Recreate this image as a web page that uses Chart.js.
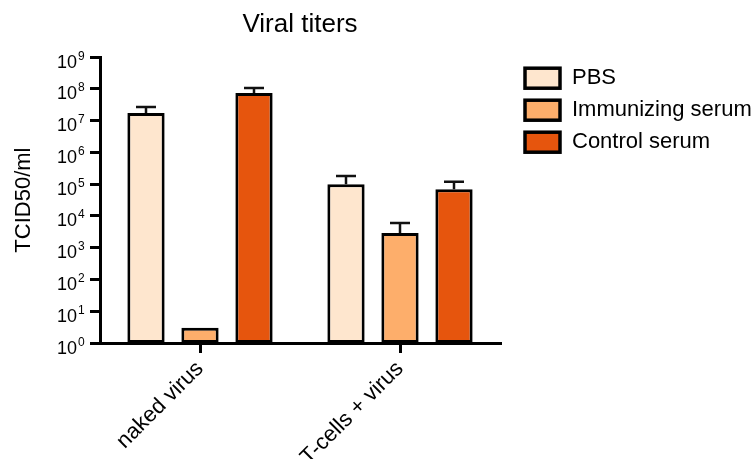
<!DOCTYPE html>
<html>
<head>
<meta charset="utf-8">
<script src="https://cdn.jsdelivr.net/npm/chart.js@4"></script>
<style>
  html, body { margin: 0; padding: 0; background: #fff; }
  #wrap { width: 751px; height: 459px; }
</style>
</head>
<body>
<div id="wrap"><canvas id="titerChart" width="751" height="459"></canvas></div>
<script>
// Data
const categories = ['naked virus', 'T-cells + virus'];
const seriesNames = ['PBS', 'Immunizing serum', 'Control serum'];
const pbsValues = [1.75e7, 1.0e5];
const immunizingValues = [3, 2.9e3];
const controlValues = [7.4e7, 7.0e4];
// top of the (upper) error bar for each bar
const pbsErrTop = [2.7e7, 1.8e5];
const immunizingErrTop = [null, 6.0e3];
const controlErrTop = [1.07e8, 1.2e5];
const tickExponents = [0, 1, 2, 3, 4, 5, 6, 7, 8, 9];

const FONT = "'Liberation Sans', Arial, sans-serif";

// upper error bars with a cap
const errorBars = {
    id: 'errorBars',
    afterDatasetsDraw: function(chart) {
        const ctx = chart.ctx;
        const yScale = chart.scales.y;
        ctx.save();
        ctx.strokeStyle = '#111';
        ctx.lineWidth = 2.5;
        chart.data.datasets.forEach(function(ds, i) {
            const meta = chart.getDatasetMeta(i);
            meta.data.forEach(function(bar, j) {
                const top = ds.errTop[j];
                if (top == null) return;
                const yTop = yScale.getPixelForValue(top);
                ctx.beginPath();
                ctx.moveTo(bar.x, bar.y);
                ctx.lineTo(bar.x, yTop);
                ctx.moveTo(bar.x - 10, yTop);
                ctx.lineTo(bar.x + 10, yTop);
                ctx.stroke();
            });
        });
        ctx.restore();
    }
};

// 10^n tick labels with a raised exponent
const powerLabels = {
    id: 'powerLabels',
    afterDraw: function(chart) {
        const ctx = chart.ctx;
        const yScale = chart.scales.y;
        ctx.save();
        ctx.fillStyle = '#000';
        ctx.textBaseline = 'alphabetic';
        tickExponents.forEach(function(e) {
            const y = yScale.getPixelForValue(Math.pow(10, e));
            ctx.font = '18px ' + FONT;
            ctx.textAlign = 'right';
            ctx.fillText('10', 77, y + 10.5);
            ctx.font = '12px ' + FONT;
            ctx.textAlign = 'left';
            ctx.fillText(String(e), 78, y + 2.5);
        });
        ctx.restore();
    }
};

// legend to the right of the plot (built-in one is capped in width)
const sideLegend = {
    id: 'sideLegend',
    afterDraw: function(chart) {
        const ctx = chart.ctx;
        const x0 = chart.chartArea.right + 25;
        const y0 = chart.chartArea.top + 11;
        ctx.save();
        ctx.font = '22px ' + FONT;
        ctx.textAlign = 'left';
        ctx.textBaseline = 'middle';
        chart.data.datasets.forEach(function(ds, i) {
            const y = y0 + i * 32;
            ctx.fillStyle = ds.backgroundColor;
            ctx.fillRect(x0, y, 35, 20);
            ctx.strokeStyle = '#000';
            ctx.lineWidth = 3.5;
            ctx.strokeRect(x0, y, 35, 20);
            ctx.fillStyle = '#000';
            ctx.fillText(ds.label, x0 + 47, y + 10);
        });
        ctx.restore();
    }
};

const ctx = document.getElementById('titerChart').getContext('2d');
new Chart(ctx, {
    type: 'bar',
    data: {
        labels: categories,
        datasets: [{
            label: seriesNames[0],
            data: pbsValues,
            errTop: pbsErrTop,
            backgroundColor: '#fee6ce'
        }, {
            label: seriesNames[1],
            data: immunizingValues,
            errTop: immunizingErrTop,
            backgroundColor: '#fdae6b'
        }, {
            label: seriesNames[2],
            data: controlValues,
            errTop: controlErrTop,
            backgroundColor: '#e6550d'
        }]
    },
    options: {
        responsive: false,
        animation: false,
        devicePixelRatio: 1,
        datasets: {
            bar: {
                borderColor: '#000',
                borderWidth: 3,
                borderSkipped: false,
                categoryPercentage: 0.81,
                barPercentage: 0.69
            }
        },
        layout: { padding: { right: 251 } },
        plugins: {
            tooltip: { enabled: false },
            legend: { display: false },
            title: {
                display: true,
                text: 'Viral titers',
                fullSize: false,
                color: '#000',
                font: { family: FONT, size: 26, weight: 'normal' },
                padding: { top: 9, bottom: 17 }
            }
        },
        scales: {
            x: {
                offset: true,
                grid: {
                    offset: false,
                    drawOnChartArea: false,
                    drawTicks: true,
                    tickLength: 10,
                    color: '#000',
                    lineWidth: 3
                },
                border: { display: true, color: '#000', width: 3 },
                ticks: {
                    maxRotation: 45,
                    minRotation: 45,
                    color: '#000',
                    font: { family: FONT, size: 22 }
                },
                afterFit: function(scale) { scale.height = 116; }
            },
            y: {
                type: 'logarithmic',
                min: 1,
                max: 1e9,
                grid: {
                    drawOnChartArea: false,
                    drawTicks: true,
                    tickLength: 10,
                    color: '#000',
                    lineWidth: 3
                },
                border: { display: true, color: '#000', width: 3 },
                ticks: {
                    callback: function() { return ''; }
                },
                afterBuildTicks: function(scale) {
                    scale.ticks = tickExponents.map(function(e) { return { value: Math.pow(10, e) }; });
                },
                title: {
                    display: true,
                    text: 'TCID50/ml',
                    color: '#000',
                    font: { family: FONT, size: 22 },
                    padding: { top: 11, bottom: 0 }
                },
                afterFit: function(scale) { scale.width = 100; }
            }
        }
    },
    plugins: [errorBars, powerLabels, sideLegend]
});
</script>
</body>
</html>
